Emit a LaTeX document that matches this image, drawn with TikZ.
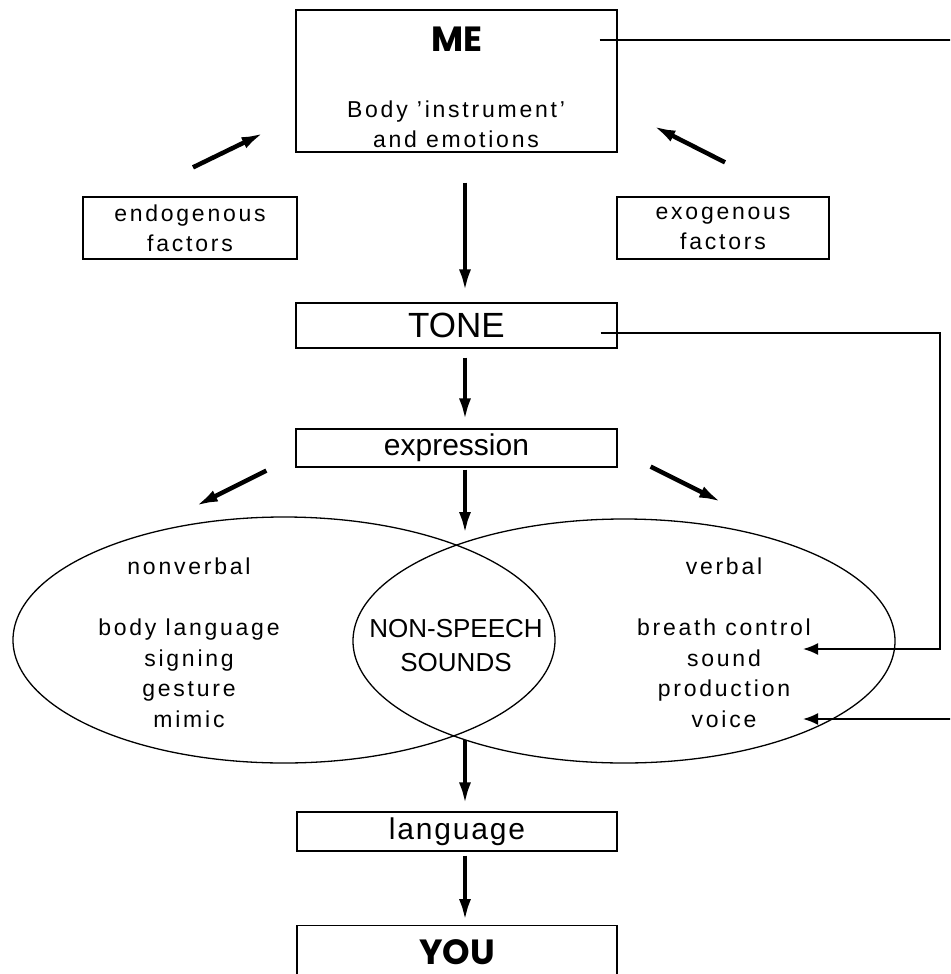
\documentclass[tikz,border=0pt]{standalone}
\usepackage{fontspec}
\setmainfont{Liberation Sans}
\newfontfamily\widefont[LetterSpace=12]{Liberation Sans}
\newfontfamily\midfont[LetterSpace=6]{Liberation Sans}
\newfontfamily\headfont{Poppins}
\usetikzlibrary{shapes.geometric,arrows.meta,calc}

\begin{document}
\begin{tikzpicture}[x=1pt,y=-1pt]
    \tikzstyle{box}=[draw,line width=1.3pt,inner sep=0pt]
    \tikzstyle{oval}=[ellipse,draw,line width=1.3pt,inner sep=0pt,minimum width=542pt,minimum height=246pt]
    \tikzstyle{note}=[align=center,inner sep=0pt,font=\widefont\fontsize{23}{30}\selectfont]
    \tikzstyle{head}=[inner sep=0pt,font=\headfont\bfseries\fontsize{35}{38}\selectfont]
    \tikzstyle{bigarrow}=[-{Latex[length=23pt,width=12pt]},line width=4.5pt]
    \tikzstyle{link}=[-{Latex[length=15pt,width=12pt]},line width=1.8pt]

    \useasboundingbox (0,0) rectangle (950,974);
    \clip (0,0) rectangle (950,974);

    \node[box,minimum width=321pt,minimum height=142pt](me) at (456.5,81){};
    \node[head](metitle) at (457,39){ME};
    \node[note](mebody) at (456,124){Body ’instrument’\\and emotions};
    \node[box,note,minimum width=214pt,minimum height=62pt](endofactors) at (190,228){endogenous\\factors};
    \node[box,note,minimum width=212pt,minimum height=62pt](exofactors) at (723,228){exogenous\\factors};
    \node[box,minimum width=321pt,minimum height=45pt,font=\fontsize{35}{40}\selectfont](tone) at (456.5,325.5){TONE};
    \node[box,minimum width=321pt,minimum height=38pt,font=\fontsize{30}{34}\selectfont](expression) at (456.5,448){expression};
    \node[oval](nonverbal) at (284,640){};
    \node[oval,minimum height=244pt](verbal) at (624,641){};
    \node[note,font=\widefont\fontsize{23}{30.6}\selectfont](nonverbaltext) at (189,642.5){nonverbal\\[30.6pt]body language\\signing\\gesture\\mimic};
    \node[note,font=\widefont\fontsize{23}{30.6}\selectfont](verbaltext) at (724,642.5){verbal\\[30.6pt]breath control\\sound\\production\\voice};
    \node[align=center,inner sep=0pt,font=\fontsize{26}{34}\selectfont](nonspeech) at (456,645.5){NON-SPEECH\\SOUNDS};
    \node[box,minimum width=320pt,minimum height=39pt,font=\midfont\fontsize{30}{34}\selectfont](language) at (457,831.5){language};
    \node[box,minimum width=320pt,minimum height=80pt,anchor=north](youbox) at (457,925){};
    \node[head](you) at (457,952){YOU};

    \coordinate (venntop) at (465,535);
    \coordinate (vennbottom) at (465,740);
    \coordinate (breathin) at (803,649);
    \coordinate (voicein) at (803,719);

    \draw[bigarrow,shorten <=30pt,shorten >=10pt] ([xshift=8.5pt]me.south) -- ([xshift=8.5pt]tone.north);
    \draw[bigarrow] ([shift={(3,-29)}]endofactors.north) -- ([shift={(-31,-20)}]me.south west);
    \draw[bigarrow] ([shift={(2,-34)}]exofactors.north) -- ([shift={(35,-27)}]me.south east);
    \draw[bigarrow,shorten <=9pt,shorten >=7pt] ([xshift=8.5pt]tone.south) -- ([xshift=8.5pt]expression.north);
    \draw[bigarrow,shorten <=2pt] ([xshift=8.5pt]expression.south) -- (venntop);
    \draw[bigarrow] ([shift={(-29,3)}]expression.south west) -- ([shift={(-89,-10)}]nonverbal.north);
    \draw[bigarrow] ([shift={(33,-1)}]expression.south east) -- ([shift={(98,-16)}]verbal.north);
    \draw[bigarrow,shorten >=6pt] (vennbottom) -- ([xshift=8pt]language.north);
    \draw[bigarrow,shorten <=4pt,shorten >=3pt] ([xshift=8pt]language.south) -- ([xshift=8pt]youbox.north);
    \draw[link] ($(tone.east)+(-17,7.5)$) -- ++(339,0) |- (breathin);
    \draw[link] ($(me.east |- metitle)+(-18,1)$) -- ++(400,0) |- (voicein);

\end{tikzpicture}
\end{document}
